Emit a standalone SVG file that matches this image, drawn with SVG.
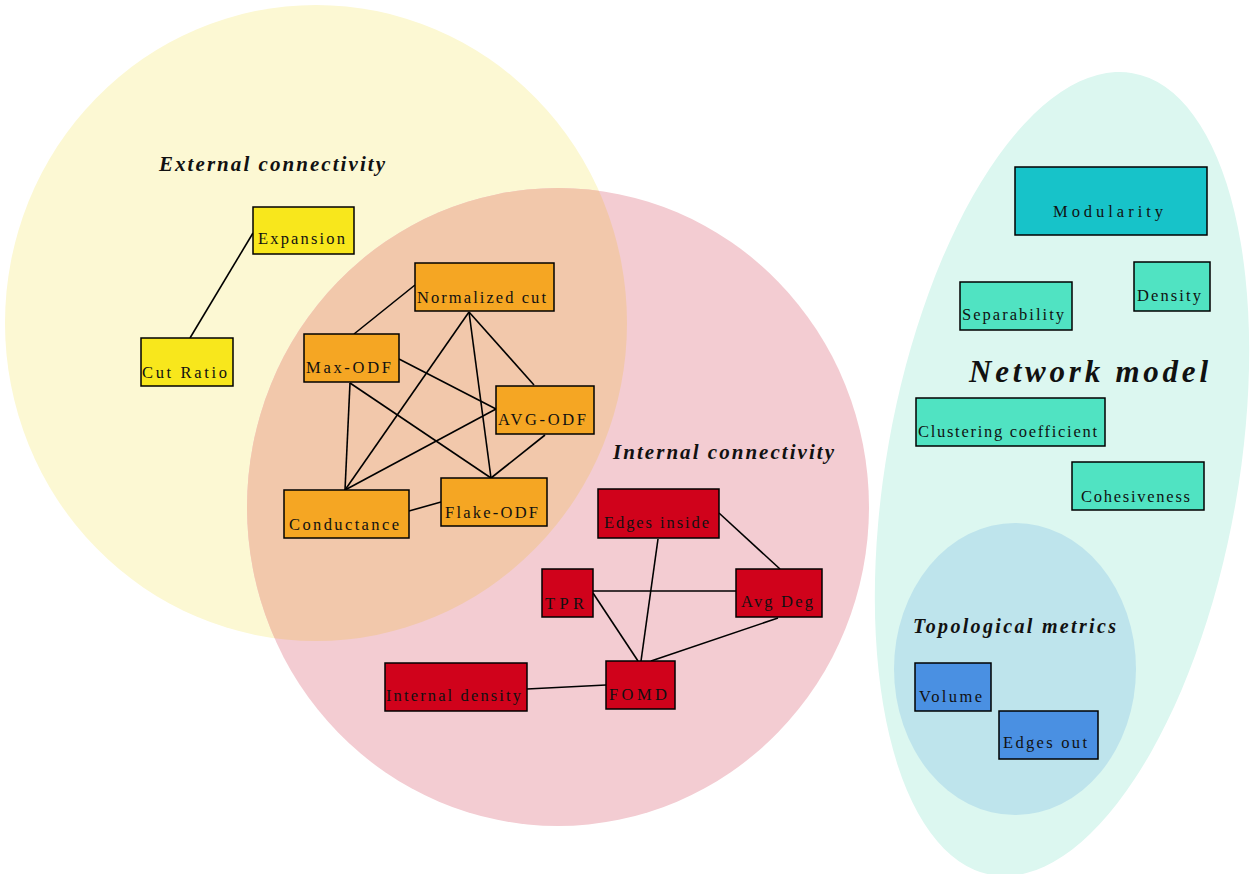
<svg xmlns="http://www.w3.org/2000/svg" width="1254" height="874" viewBox="0 0 1254 874">
<style>
.n{stroke:#000;stroke-width:1.5}
.t{font-family:"Liberation Serif","DejaVu Serif",serif;font-size:16.5px;fill:#111}
.h{font-family:"Liberation Serif","DejaVu Serif",serif;font-weight:bold;font-style:italic;fill:#111}
.e{stroke:#000;stroke-width:1.6;fill:none}
.y{fill:#f8e71c}.o{fill:#f5a623}.r{fill:#d0021b}.m{fill:#17c3c9}.g{fill:#50e3c2}.b{fill:#4a90e2}
</style>
<defs>
<clipPath id="pinkclip"><ellipse cx="558" cy="507" rx="311" ry="319"/></clipPath>
</defs>
<g id="regions">
<ellipse cx="316" cy="323" rx="311" ry="318" fill="#fcf8d3"/>
<ellipse cx="558" cy="507" rx="311" ry="319" fill="#f3ccd2"/>
<ellipse cx="316" cy="323" rx="311" ry="318" fill="#f2c8ab" clip-path="url(#pinkclip)"/>
<ellipse cx="0" cy="0" rx="176" ry="407" fill="#dcf7f0" transform="translate(1062 474) rotate(10)"/>
<ellipse cx="1015" cy="669" rx="121" ry="146" fill="#bee4ec"/>
</g>
<g id="labels">
<text class="h" x="159" y="171" font-size="21" textLength="226" lengthAdjust="spacing">External connectivity</text>
<text class="h" x="613" y="459" font-size="21" textLength="221" lengthAdjust="spacing">Internal connectivity</text>
<text class="h" x="969" y="382" font-size="31" textLength="239" lengthAdjust="spacing">Network model</text>
<text class="h" x="913" y="633" font-size="20" textLength="203" lengthAdjust="spacing">Topological metrics</text>
</g>
<g id="connectors">
<line class="e" x1="253" y1="233" x2="190" y2="338"/>
<line class="e" x1="415" y1="285" x2="354" y2="334"/>
<line class="e" x1="469" y1="312" x2="345" y2="490"/>
<line class="e" x1="469" y1="312" x2="491" y2="478"/>
<line class="e" x1="469" y1="312" x2="534" y2="385"/>
<line class="e" x1="399" y1="359" x2="496" y2="409"/>
<line class="e" x1="350" y1="383" x2="345" y2="490"/>
<line class="e" x1="350" y1="383" x2="491" y2="478"/>
<line class="e" x1="496" y1="409" x2="345" y2="490"/>
<line class="e" x1="545" y1="435" x2="491" y2="478"/>
<line class="e" x1="409" y1="511" x2="441" y2="502"/>
<line class="e" x1="719" y1="513" x2="780" y2="569"/>
<line class="e" x1="658" y1="539" x2="641" y2="661"/>
<line class="e" x1="593" y1="591" x2="736" y2="591"/>
<line class="e" x1="593" y1="593" x2="638" y2="661"/>
<line class="e" x1="778" y1="618" x2="651" y2="661"/>
<line class="e" x1="527" y1="689" x2="606" y2="685"/>
</g>
<g id="expansion"><rect class="n y" x="253" y="207" width="101" height="47"/><text class="t" x="258" y="244" textLength="87" lengthAdjust="spacing">Expansion</text></g>
<g id="cut-ratio"><rect class="n y" x="141" y="338" width="92" height="48"/><text class="t" x="142" y="378" textLength="85" lengthAdjust="spacing">Cut Ratio</text></g>
<g id="normalized-cut"><rect class="n o" x="415" y="263" width="139" height="48"/><text class="t" x="417" y="303" textLength="129" lengthAdjust="spacing">Normalized cut</text></g>
<g id="max-odf"><rect class="n o" x="304" y="334" width="95" height="48"/><text class="t" x="306" y="373" textLength="85" lengthAdjust="spacing">Max-ODF</text></g>
<g id="avg-odf"><rect class="n o" x="496" y="386" width="98" height="48"/><text class="t" x="498" y="425" textLength="88" lengthAdjust="spacing">AVG-ODF</text></g>
<g id="conductance"><rect class="n o" x="284" y="490" width="125" height="48"/><text class="t" x="289" y="530" textLength="110" lengthAdjust="spacing">Conductance</text></g>
<g id="flake-odf"><rect class="n o" x="441" y="478" width="106" height="48"/><text class="t" x="445" y="518" textLength="93" lengthAdjust="spacing">Flake-ODF</text></g>
<g id="edges-inside"><rect class="n r" x="598" y="489" width="121" height="49"/><text class="t" x="604" y="528" textLength="105" lengthAdjust="spacing">Edges inside</text></g>
<g id="tpr"><rect class="n r" x="542" y="569" width="51" height="48"/><text class="t" x="545" y="609" textLength="39" lengthAdjust="spacing">TPR</text></g>
<g id="avg-deg"><rect class="n r" x="736" y="569" width="86" height="48"/><text class="t" x="741" y="607" textLength="72" lengthAdjust="spacing">Avg Deg</text></g>
<g id="fomd"><rect class="n r" x="606" y="661" width="69" height="48"/><text class="t" x="609" y="700" textLength="58" lengthAdjust="spacing">FOMD</text></g>
<g id="internal-density"><rect class="n r" x="385" y="663" width="142" height="48"/><text class="t" x="386" y="701" textLength="135" lengthAdjust="spacing">Internal density</text></g>
<g id="modularity"><rect class="n m" x="1015" y="167" width="192" height="68"/><text class="t" x="1053" y="217" font-size="22" textLength="110" lengthAdjust="spacing">Modularity</text></g>
<g id="separability"><rect class="n g" x="960" y="282" width="112" height="48"/><text class="t" x="962" y="320" textLength="102" lengthAdjust="spacing">Separability</text></g>
<g id="density"><rect class="n g" x="1134" y="262" width="76" height="49"/><text class="t" x="1137" y="301" textLength="64" lengthAdjust="spacing">Density</text></g>
<g id="clustering-coefficient"><rect class="n g" x="916" y="398" width="189" height="48"/><text class="t" x="918" y="437" textLength="179" lengthAdjust="spacing">Clustering coefficient</text></g>
<g id="cohesiveness"><rect class="n g" x="1072" y="462" width="132" height="48"/><text class="t" x="1081" y="502" textLength="109" lengthAdjust="spacing">Cohesiveness</text></g>
<g id="volume"><rect class="n b" x="915" y="663" width="76" height="48"/><text class="t" x="919" y="702" textLength="63" lengthAdjust="spacing">Volume</text></g>
<g id="edges-out"><rect class="n b" x="999" y="711" width="99" height="48"/><text class="t" x="1003" y="748" textLength="84" lengthAdjust="spacing">Edges out</text></g>
</svg>
